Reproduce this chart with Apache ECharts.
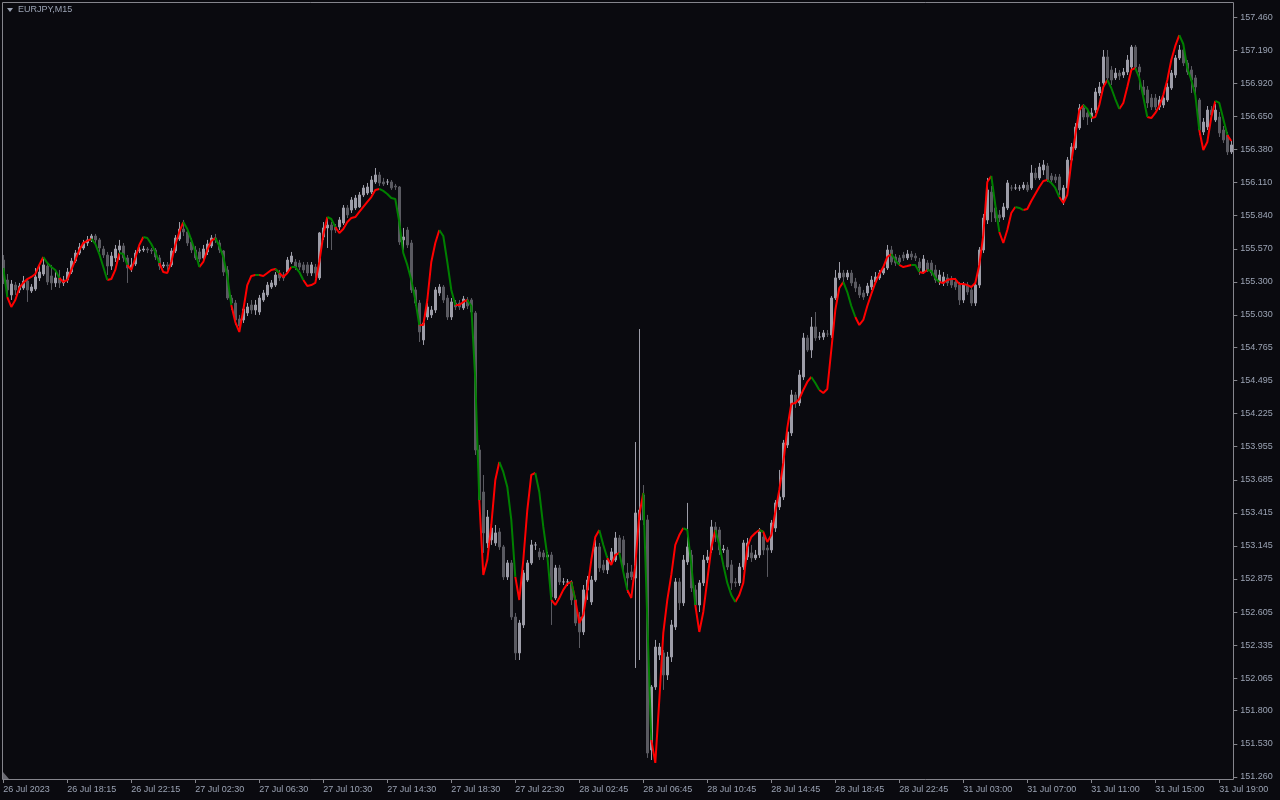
<!DOCTYPE html>
<html><head><meta charset="utf-8">
<script src="https://cdn.jsdelivr.net/npm/echarts/dist/echarts.min.js"></script>
<style>html,body{margin:0;padding:0;background:#0a0a0f;}#c{width:1280px;height:800px;}</style>
</head><body><div id="c"></div>
<script>
const chartTitle = 'EURJPY,M15';
const xTickLabels = ['26 Jul 2023','26 Jul 18:15','26 Jul 22:15','27 Jul 02:30','27 Jul 06:30','27 Jul 10:30','27 Jul 14:30','27 Jul 18:30','27 Jul 22:30','28 Jul 02:45','28 Jul 06:45','28 Jul 10:45','28 Jul 14:45','28 Jul 18:45','28 Jul 22:45','31 Jul 03:00','31 Jul 07:00','31 Jul 11:00','31 Jul 15:00','31 Jul 19:00'];
const barsPerXTick = 16;
const yTickLabels = ['157.460','157.190','156.920','156.650','156.380','156.110','155.840','155.570','155.300','155.030','154.765','154.495','154.225','153.955','153.685','153.415','153.145','152.875','152.605','152.335','152.065','151.800','151.530','151.260'];
const yMin = 151.243, yMax = 157.5755;

const openPrices = [
155.478,155.315,155.193,155.274,155.234,155.250,155.307,155.226,155.242,155.332,155.364,155.429,155.348,155.291,155.332,155.291,
155.315,155.380,155.470,155.535,155.576,155.617,155.642,155.674,155.642,155.568,155.519,155.429,155.495,155.560,155.593,155.495,
155.413,155.446,155.552,155.560,155.568,155.560,155.560,155.495,155.429,155.438,155.438,155.552,155.650,155.731,155.707,155.625,
155.560,155.544,155.495,155.544,155.593,155.658,155.617,155.552,155.397,155.168,155.127,154.997,154.989,155.046,155.111,155.070,
155.054,155.152,155.193,155.258,155.274,155.372,155.356,155.380,155.462,155.462,155.454,155.438,155.438,155.372,155.421,155.332,
155.666,155.740,155.764,155.748,155.748,155.780,155.903,155.886,155.903,155.911,156.009,156.025,156.033,156.115,156.172,156.115,
156.115,156.115,156.082,156.074,155.642,155.723,155.617,155.234,155.127,154.826,155.013,155.030,155.070,155.209,155.258,155.168,
155.013,155.127,155.127,155.087,155.152,155.152,155.046,153.928,153.585,153.169,153.194,153.169,153.259,153.137,152.892,153.006,
152.565,152.272,152.500,152.867,153.006,153.153,153.096,153.088,153.055,153.071,152.720,152.965,152.851,152.851,152.851,152.704,
152.565,152.443,152.786,152.688,152.867,153.137,152.990,152.949,153.030,153.030,153.210,153.194,152.924,152.933,152.883,153.357,
153.561,153.357,151.480,151.994,152.255,152.272,152.092,152.239,152.484,152.851,152.680,153.014,153.071,152.786,152.663,152.843,
153.030,153.112,153.300,153.275,153.112,153.112,152.990,152.851,152.843,152.973,153.055,153.088,153.047,153.071,153.218,153.128,
153.112,153.291,153.463,153.544,153.969,154.067,154.377,154.312,154.524,154.842,154.744,154.932,154.850,154.850,154.874,154.866,
155.168,155.332,155.372,155.340,155.372,155.299,155.258,155.209,155.209,155.258,155.299,155.332,155.372,155.413,155.560,155.503,
155.495,155.519,155.495,155.527,155.511,155.462,155.380,155.454,155.454,155.397,155.299,155.291,155.332,155.315,155.299,155.274,
155.152,155.274,155.234,155.127,155.274,155.560,155.805,156.033,155.903,155.846,155.829,155.903,156.066,156.066,156.066,156.066,
156.090,156.066,156.188,156.148,156.213,156.245,156.164,156.156,156.156,155.968,156.066,156.294,156.392,156.556,156.719,156.678,
156.645,156.702,156.841,156.923,157.135,157.029,156.964,157.004,156.988,157.012,157.053,157.216,157.053,156.890,156.866,156.800,
156.800,156.727,156.743,156.784,156.882,156.988,157.127,157.192,157.086,157.029,156.964,156.784,156.523,156.564,156.702,156.621,
156.645,156.539,156.498,156.360];

const closePrices = [
155.315,155.234,155.282,155.234,155.266,155.307,155.234,155.258,155.340,155.380,155.438,155.299,155.291,155.332,155.291,155.315,
155.380,155.470,155.535,155.584,155.617,155.642,155.674,155.642,155.576,155.519,155.429,155.511,155.568,155.593,155.495,155.413,
155.438,155.535,155.560,155.568,155.560,155.552,155.503,155.429,155.438,155.429,155.552,155.658,155.731,155.707,155.617,155.560,
155.495,155.486,155.568,155.609,155.658,155.642,155.560,155.380,155.168,155.127,154.989,154.940,155.078,155.095,155.070,155.111,
155.168,155.209,155.274,155.291,155.356,155.332,155.332,155.478,155.511,155.421,155.421,155.397,155.372,155.438,155.372,155.699,
155.740,155.764,155.723,155.723,155.805,155.903,155.846,155.968,155.984,156.009,156.066,156.074,156.131,156.172,156.107,156.099,
156.115,156.066,156.074,155.625,155.666,155.601,155.234,155.127,154.891,154.964,155.095,155.070,155.234,155.258,155.152,155.013,
155.136,155.095,155.095,155.160,155.103,155.054,153.928,153.520,153.251,153.381,153.291,153.251,153.137,152.892,153.006,152.565,
152.272,152.516,152.924,153.006,153.153,153.153,153.055,153.055,153.071,152.729,152.965,152.851,152.851,152.851,152.704,152.516,
152.443,152.786,152.867,152.867,153.137,152.965,152.949,153.030,153.096,153.210,153.088,152.990,152.883,152.892,153.414,153.438,
153.357,151.455,151.994,152.320,152.320,152.092,152.239,152.500,152.851,152.680,153.030,153.137,152.802,152.663,152.843,153.030,
153.055,153.300,153.218,153.112,153.120,152.973,152.843,152.843,152.973,153.169,153.169,153.047,153.071,153.259,153.112,153.112,
153.332,153.496,153.544,153.985,154.075,154.377,154.312,154.540,154.842,154.744,154.932,154.842,154.850,154.883,154.874,155.168,
155.332,155.372,155.340,155.372,155.291,155.250,155.193,155.176,155.266,155.315,155.340,155.372,155.413,155.560,155.462,155.454,
155.462,155.495,155.527,155.503,155.495,155.413,155.486,155.397,155.372,155.315,155.356,155.340,155.291,155.274,155.258,155.152,
155.274,155.217,155.127,155.274,155.560,155.821,156.050,155.870,155.821,155.821,155.911,156.107,156.066,156.066,156.066,156.090,
156.050,156.188,156.148,156.237,156.254,156.131,156.131,156.131,156.050,156.066,156.294,156.400,156.564,156.719,156.645,156.645,
156.678,156.849,156.890,157.135,156.964,156.947,157.004,156.980,157.012,157.110,157.216,157.053,157.012,156.825,156.760,156.727,
156.727,156.784,156.800,156.890,157.004,157.127,157.192,157.086,157.012,156.947,156.890,156.539,156.604,156.702,156.662,156.702,
156.515,156.458,156.360,156.417];

const lowPrices = [
155.282,155.168,155.152,155.193,155.209,155.234,155.136,155.209,155.226,155.307,155.348,155.274,155.234,155.258,155.250,155.266,
155.291,155.364,155.454,155.519,155.560,155.593,155.625,155.601,155.544,155.495,155.356,155.397,155.462,155.478,155.462,155.291,
155.380,155.429,155.535,155.544,155.535,155.527,155.478,155.397,155.413,155.397,155.421,155.535,155.634,155.674,155.593,155.535,
155.478,155.462,155.470,155.519,155.576,155.617,155.535,155.348,155.152,155.070,154.948,154.907,154.964,155.021,155.038,155.030,
155.030,155.136,155.176,155.242,155.258,155.307,155.307,155.364,155.446,155.397,155.397,155.372,155.348,155.348,155.332,155.315,
155.642,155.576,155.560,155.699,155.723,155.764,155.821,155.862,155.886,155.903,155.992,156.009,156.017,156.099,156.082,156.082,
156.090,156.050,156.050,155.601,155.560,155.576,155.209,155.103,154.809,154.785,154.989,155.005,155.046,155.185,155.127,154.989,
154.989,155.070,155.070,155.070,155.078,155.021,153.887,153.479,153.088,153.128,153.153,153.145,153.112,152.867,152.867,152.541,
152.214,152.214,152.475,152.851,152.990,153.112,153.030,153.030,153.047,152.500,152.704,152.826,152.826,152.818,152.663,152.492,
152.312,152.418,152.704,152.663,152.851,152.933,152.924,152.916,153.006,153.014,153.063,152.933,152.761,152.867,152.149,152.214,
153.316,151.415,151.398,151.970,152.214,151.970,152.051,152.198,152.459,152.622,152.655,152.990,152.769,152.622,152.606,152.818,
153.006,153.088,153.177,153.071,153.088,152.949,152.786,152.810,152.818,152.949,153.030,153.014,153.030,153.047,153.071,152.892,
153.088,153.259,153.438,153.520,153.944,154.042,154.271,154.287,154.499,154.728,154.679,154.818,154.826,154.826,154.850,154.842,
155.152,155.315,155.299,155.315,155.266,155.217,155.168,155.152,155.185,155.234,155.282,155.315,155.356,155.397,155.438,155.429,
155.438,155.470,155.478,155.478,155.470,155.356,155.364,155.380,155.348,155.291,155.274,155.266,155.266,155.250,155.234,155.111,
155.127,155.193,155.103,155.103,155.250,155.535,155.772,155.788,155.788,155.788,155.805,155.886,156.042,156.050,156.042,156.050,
156.033,156.050,156.131,156.131,156.172,156.115,156.115,156.107,156.009,155.927,156.033,156.270,156.376,156.539,156.621,156.580,
156.604,156.678,156.817,156.906,156.931,156.906,156.947,156.947,156.964,156.988,157.029,157.029,156.866,156.784,156.719,156.702,
156.702,156.702,156.719,156.768,156.866,156.964,157.110,157.061,156.988,156.841,156.784,156.498,156.498,156.539,156.637,156.604,
156.482,156.433,156.335,156.343];

const highPrices = [
155.519,155.364,155.315,155.299,155.291,155.348,155.332,155.282,155.413,155.438,155.495,155.462,155.438,155.380,155.397,155.348,
155.413,155.495,155.560,155.617,155.642,155.674,155.691,155.691,155.658,155.593,155.544,155.544,155.601,155.642,155.617,155.519,
155.495,155.560,155.584,155.593,155.584,155.576,155.576,155.519,155.462,155.462,155.576,155.682,155.788,155.805,155.731,155.658,
155.593,155.576,155.601,155.642,155.682,155.691,155.642,155.560,155.429,155.193,155.152,155.030,155.111,155.127,155.152,155.152,
155.193,155.234,155.299,155.315,155.380,155.397,155.380,155.503,155.544,155.486,155.478,155.462,155.462,155.462,155.446,155.707,
155.788,155.829,155.788,155.772,155.829,155.927,155.927,155.992,156.009,156.033,156.090,156.107,156.164,156.229,156.197,156.148,
156.139,156.131,156.099,156.082,155.740,155.748,155.642,155.258,155.152,154.989,155.127,155.103,155.258,155.282,155.274,155.193,
155.168,155.152,155.152,155.185,155.176,155.168,155.062,153.969,153.724,153.438,153.357,153.316,153.291,153.153,153.030,153.030,
152.598,152.541,152.949,153.030,153.194,153.177,153.128,153.112,153.096,153.096,152.990,152.990,152.883,152.875,152.867,152.720,
152.606,152.826,152.900,152.900,153.194,153.169,153.030,153.063,153.128,153.259,153.234,153.226,153.006,152.990,153.993,154.915,
153.642,153.398,152.010,152.378,152.353,152.296,152.280,152.541,152.883,152.883,153.071,153.496,153.112,152.826,152.867,153.071,
153.112,153.357,153.340,153.300,153.153,153.137,153.030,152.883,153.006,153.194,153.210,153.153,153.112,153.291,153.259,153.153,
153.357,153.520,153.765,154.010,154.107,154.418,154.401,154.581,154.883,154.866,155.013,155.054,154.891,154.907,154.907,155.185,
155.397,155.462,155.397,155.397,155.397,155.332,155.282,155.234,155.291,155.348,155.380,155.397,155.438,155.601,155.593,155.527,
155.519,155.544,155.560,155.552,155.535,155.495,155.519,155.478,155.478,155.438,155.397,155.380,155.364,155.348,155.332,155.299,
155.299,155.299,155.258,155.315,155.584,155.854,156.148,156.082,155.927,155.886,155.944,156.131,156.090,156.099,156.090,156.115,
156.115,156.254,156.229,156.270,156.294,156.270,156.188,156.180,156.180,156.090,156.319,156.433,156.596,156.751,156.751,156.702,
156.719,156.882,156.931,157.192,157.192,157.061,157.045,157.029,157.045,157.151,157.233,157.233,157.078,156.947,156.898,156.833,
156.833,156.817,156.833,156.923,157.029,157.151,157.233,157.216,157.110,157.061,156.988,156.800,156.637,156.735,156.735,156.751,
156.686,156.572,156.523,156.449];

const trendLine = [
155.413,155.176,155.095,155.152,155.250,155.291,155.323,155.340,155.364,155.438,155.503,155.454,155.421,155.397,155.332,155.299,
155.315,155.397,155.478,155.560,155.617,155.634,155.650,155.609,155.527,155.421,155.315,155.323,155.397,155.535,155.527,155.438,
155.397,155.495,155.601,155.666,155.658,155.609,155.544,155.454,155.380,155.372,155.462,155.601,155.707,155.788,155.731,155.642,
155.544,155.421,155.462,155.560,155.634,155.658,155.593,155.503,155.348,155.111,154.972,154.891,155.070,155.274,155.348,155.356,
155.356,155.348,155.372,155.397,155.405,155.372,155.340,155.372,155.421,155.421,155.380,155.315,155.266,155.274,155.291,155.462,
155.682,155.829,155.813,155.748,155.699,155.731,155.788,155.821,155.829,155.870,155.911,155.952,155.992,156.050,156.058,156.042,
156.017,155.984,155.976,155.788,155.535,155.438,155.315,155.152,154.948,154.948,155.152,155.462,155.617,155.723,155.674,155.462,
155.234,155.111,155.111,155.136,155.152,155.103,154.499,153.520,152.908,153.030,153.316,153.683,153.830,153.749,153.626,153.357,
152.892,152.704,153.030,153.438,153.724,153.740,153.585,153.300,153.063,152.704,152.663,152.720,152.786,152.835,152.851,152.704,
152.516,152.582,152.786,153.030,153.218,153.275,153.153,153.047,152.990,153.071,153.088,152.933,152.786,152.720,152.990,153.398,
153.577,152.541,151.562,151.374,151.888,152.435,152.704,152.908,153.153,153.234,153.291,153.275,152.990,152.663,152.443,152.606,
152.867,153.128,153.275,153.153,152.990,152.843,152.745,152.688,152.745,152.843,153.137,153.218,153.251,153.275,153.259,153.177,
153.234,153.422,153.602,153.822,154.108,154.303,154.312,154.344,154.418,154.483,154.524,154.475,154.418,154.393,154.426,154.744,
155.070,155.250,155.299,155.217,155.103,155.013,154.948,154.989,155.103,155.201,155.291,155.364,155.421,155.503,155.527,155.478,
155.438,155.421,155.429,155.438,155.438,155.380,155.372,155.397,155.389,155.332,155.299,155.291,155.315,155.323,155.323,155.282,
155.282,155.274,155.258,155.291,155.438,155.682,156.115,156.164,155.927,155.707,155.617,155.723,155.862,155.911,155.903,155.886,
155.895,155.960,156.017,156.074,156.123,156.131,156.107,156.066,155.992,155.944,156.009,156.278,156.498,156.702,156.743,156.711,
156.637,156.645,156.743,156.890,156.947,156.882,156.792,156.711,156.760,156.890,157.029,157.045,156.964,156.808,156.645,156.637,
156.678,156.735,156.825,156.947,157.110,157.225,157.314,157.241,157.045,156.947,156.825,156.539,156.376,156.441,156.645,156.776,
156.760,156.629,156.498,156.449];

// run lengths of the indicator colour, segment by segment, alternating: green, red, green, red ...
const trendColorRuns = [1,9,4,8,4,3,2,4,4,6,4,4,4,6,1,4,1,3,3,6,2,11,10,5,4,3,3,5,4,5,4,5,1,6,2,3,2,4,2,8,3,5,5,6,1,12,2,6,3,9,2,3,2,2,3,13,2,4,2,6,3,6,2,4,3,4,3,8,5,4,3,1];

const BG = '#0a0a0f', FRAME = '#85858c', TXT = '#9ba3b4';
const BULL = '#9d9da8', BEAR = '#5a5a61';
const FONT = 'Liberation Sans';

const segColor = [];
trendColorRuns.forEach((n, k) => { for (let j = 0; j < n; j++) segColor.push(k % 2 === 0 ? 'g' : 'r'); });
function trendPart(c) {
  return trendLine.map((v, i) => ((i < segColor.length && segColor[i] === c) || (i > 0 && segColor[i - 1] === c)) ? v : '-');
}
const categories = openPrices.map((_, i) => String(i));
const candleData = openPrices.map((o, i) => [o, closePrices[i], lowPrices[i], highPrices[i]]);
const yTickValues = yTickLabels.map(Number);

const chart = echarts.init(document.getElementById('c'), null, { renderer: 'canvas' });
chart.setOption({
  animation: false,
  backgroundColor: BG,
  grid: { left: 1.3, right: 46.7, top: 3, bottom: 21, containLabel: false },
  xAxis: {
    type: 'category', data: categories, boundaryGap: true,
    axisLine: { show: false },
    axisTick: { show: true, interval: barsPerXTick - 1, alignWithLabel: true, length: 4, lineStyle: { color: FRAME } },
    axisLabel: {
      interval: barsPerXTick - 1, align: 'left', margin: 6, fontSize: 9, fontFamily: FONT, color: TXT,
      formatter: (v, idx) => (idx % barsPerXTick === 0 ? (xTickLabels[idx / barsPerXTick] || '') : '')
    },
    splitLine: { show: false }
  },
  yAxis: {
    type: 'value', position: 'right', min: yMin, max: yMax, scale: true,
    axisLine: { show: false },
    axisTick: { show: true, length: 4, customValues: yTickValues, lineStyle: { color: FRAME } },
    axisLabel: {
      customValues: yTickValues, margin: 7, fontSize: 9, fontFamily: FONT, color: TXT,
      formatter: (v) => {
        let best = yTickLabels[0], d = 1e9;
        yTickLabels.forEach(s => { const dd = Math.abs(Number(s) - v); if (dd < d) { d = dd; best = s; } });
        return best;
      }
    },
    splitLine: { show: false }
  },
  series: [
    {
      type: 'candlestick', data: candleData, barWidth: 2, z: 2,
      itemStyle: { color: BULL, color0: BEAR, borderColor: BULL, borderColor0: BEAR, borderWidth: 1 }
    },
    { type: 'line', data: trendPart('r'), symbol: 'none', z: 3, connectNulls: false,
      lineStyle: { color: '#ff0000', width: 2 }, itemStyle: { color: '#ff0000' } },
    { type: 'line', data: trendPart('g'), symbol: 'none', z: 4, connectNulls: false,
      lineStyle: { color: '#008000', width: 2 }, itemStyle: { color: '#008000' } }
  ],
  graphic: [
    { type: 'rect', silent: true, z: 10, shape: { x: 2.5, y: 2.5, width: 1231, height: 777 },
      style: { fill: 'none', stroke: FRAME, lineWidth: 1 } },
    { type: 'polygon', silent: true, z: 10, shape: { points: [[7, 8], [13, 8], [10, 12]] }, style: { fill: TXT } },
    { type: 'text', silent: true, z: 10, left: 18, top: 5,
      style: { text: chartTitle, fill: TXT, font: '9px "' + FONT + '"' } },
    { type: 'polygon', silent: true, z: 10, shape: { points: [[3, 772], [3, 779], [9, 779]] }, style: { fill: '#6a6a72' } }
  ]
});
</script>
</body></html>
